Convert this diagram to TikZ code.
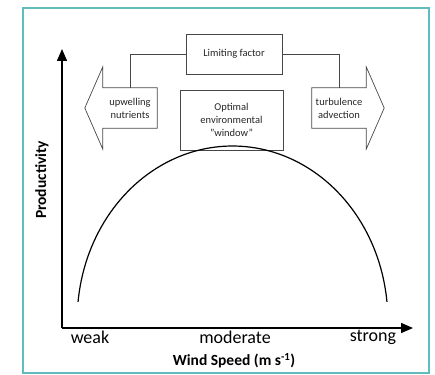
\documentclass[tikz,border=0pt]{standalone}
\usepackage{fontspec}
\setmainfont{Carlito}
\usetikzlibrary{arrows.meta,positioning}
\definecolor{frameteal}{RGB}{98,188,190}
\definecolor{boxline}{RGB}{70,70,70}

\begin{document}
\begin{tikzpicture}[x=1pt,y=1pt,>={Triangle[length=12pt,width=10pt]},
line join=miter]
\tikzstyle{every node}=[font=\fontsize{10.5}{13}\selectfont,text=black!85]
\tikzstyle{box}=[draw=boxline,line width=0.7pt,align=center,inner sep=0pt]
\tikzstyle{body}=[align=center,inner sep=0pt,minimum width=54,minimum height=40]
\tikzstyle{fat}=[draw=boxline,line width=0.7pt]
\tikzstyle{axislabel}=[font=\fontsize{18}{20}\selectfont,text=black]
\tikzstyle{axistitle}=[font=\fontsize{15.5}{18}\selectfont\bfseries,text=black]

\useasboundingbox (0,0) rectangle (435,374);
\draw[frameteal,line width=2pt] (23,1) rectangle (429,366);

% axes
\coordinate (origin) at (62,46);
\coordinate (ytip) at (62,325);
\coordinate (xtip) at (413,46);
\draw[->,line width=1.5pt] (origin) -- (ytip);
\draw[->,line width=1.5pt] (origin) -- (xtip);

\node[axislabel] (weak)     at (90,37)  {weak};
\node[axislabel] (moderate) at (235,37) {moderate};
\node[axislabel] (strong)   at (373,37) {strong};
\node[axistitle] (wind) at (234,13) {Wind Speed (m s\textsuperscript{-1})};
\node[axistitle,rotate=90] (prod) at (42,194) {Productivity};

% boxes
\node[box,minimum width=96,minimum height=40] (limit) at (234,320) {Limiting factor};
\node[box,minimum width=103,minimum height=60] (window) at (231.5,254)
  {Optimal\\environmental\\"window"};

% fat arrows
\node[body] (upwell) at (130,266) {upwelling\\nutrients};
\node[body] (turb)   at (339,266) {turbulence\\advection};
\draw[fat] (upwell.north east) -- (upwell.north west) -- ++(0,21)
  -- ([xshift=-18pt]upwell.west) -- ([yshift=-21pt]upwell.south west)
  -- (upwell.south west) -- (upwell.south east) -- cycle;
\draw[fat] (turb.north west) -- (turb.north east) -- ++(0,21)
  -- ([xshift=18pt]turb.east) -- ([yshift=-21pt]turb.south east)
  -- (turb.south east) -- (turb.south west) -- cycle;

\draw[fat] (limit.west) -| (upwell.north);
\draw[fat] (limit.east) -| (turb.north);

% productivity curve
\draw[line width=1.2pt] plot[domain=6:174,samples=90]
  ({232.5+155.3*cos(\x)},{54+174*sin(\x)});

\end{tikzpicture}
\end{document}
